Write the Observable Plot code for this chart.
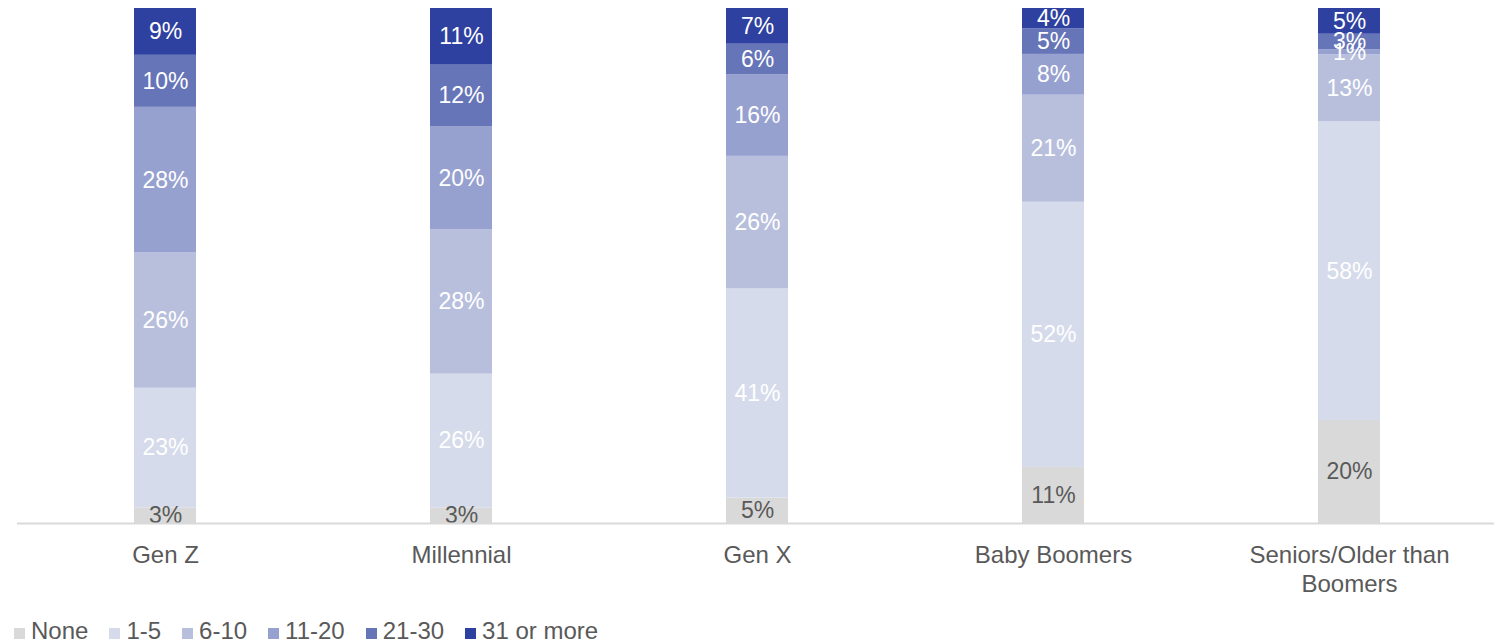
<!DOCTYPE html>
<html>
<head>
<meta charset="utf-8">
<script src="https://cdn.jsdelivr.net/npm/d3@7"></script>
<script src="https://cdn.jsdelivr.net/npm/@observablehq/plot@0.6"></script>
<style>
  html, body { margin: 0; padding: 0; background: #fff; overflow: hidden; }
  #chart svg { display: block; overflow: visible; }
  #legend { margin-left: 14px; margin-top: 14px; line-height: 24px; white-space: nowrap; font-family: "Liberation Sans", Arial, sans-serif; font-size: 24px; color: #595959; }
  .item { display: inline-block; margin-right: 21px; }
  .sw { width: 11px; height: 11px; margin-right: 6px; display: inline-block; vertical-align: baseline; }
</style>
</head>
<body>
<div id="chart"></div>
<div id="legend"></div>
<script>
const generations = ["Gen Z", "Millennial", "Gen X", "Baby Boomers", "Seniors/Older than Boomers"];
const genLabels = ["Gen Z", "Millennial", "Gen X", "Baby Boomers", "Seniors/Older than\nBoomers"];
const series = ["None", "1-5", "6-10", "11-20", "21-30", "31 or more"];
const colors = ["#d9d9d9", "#d5dbea", "#b8bfdd", "#97a1cf", "#6674b8", "#2e40a0"];
const none      = [3, 3, 5, 11, 20];
const s1to5     = [23, 26, 41, 52, 58];
const s6to10    = [26, 28, 26, 21, 13];
const s11to20   = [28, 20, 16, 8, 1];
const s21to30   = [10, 12, 6, 5, 3];
const s31plus   = [9, 11, 7, 4, 5];

const seriesValues = [none, s1to5, s6to10, s11to20, s21to30, s31plus];
const data = [];
generations.forEach((g, i) => {
  series.forEach((s, j) => data.push({gen: g, series: s, value: seriesValues[j][i]}));
});

const chart = Plot.plot({
  width: 1494,
  height: 605,
  marginLeft: 17,
  marginRight: -3,
  marginTop: 8,
  marginBottom: 82,
  style: {fontFamily: "Liberation Sans, Arial, sans-serif", fontSize: "24px", color: "#595959", overflow: "visible"},
  x: {domain: generations, paddingInner: 0.79, paddingOuter: 0.395, label: null},
  y: {axis: null, domain: [0, 1]},
  color: {domain: series, range: colors},
  marks: [
    Plot.barY(data, {x: "gen", y: "value", fill: "series", offset: "normalize", order: series, z: "series"}),
    Plot.text(data, Plot.stackY({x: "gen", y: "value", z: "series", offset: "normalize", order: series,
      text: d => d.value + "%",
      fill: d => d.series === "None" ? "#595959" : "#ffffff",
      fontSize: 23})),
    Plot.ruleY([0], {stroke: "#d9d9d9", strokeWidth: 2}),
    Plot.axisX({tickSize: 0, tickPadding: 20, fontSize: 24, fill: "#595959", lineHeight: 1.17,
      tickFormat: d => genLabels[generations.indexOf(d)], label: null})
  ]
});
document.getElementById("chart").appendChild(chart);

const legend = document.getElementById("legend");
series.forEach((s, i) => {
  const it = document.createElement("span");
  it.className = "item";
  const sw = document.createElement("span");
  sw.className = "sw";
  sw.style.background = colors[i];
  it.appendChild(sw);
  it.appendChild(document.createTextNode(s));
  legend.appendChild(it);
});
</script>
</body>
</html>
